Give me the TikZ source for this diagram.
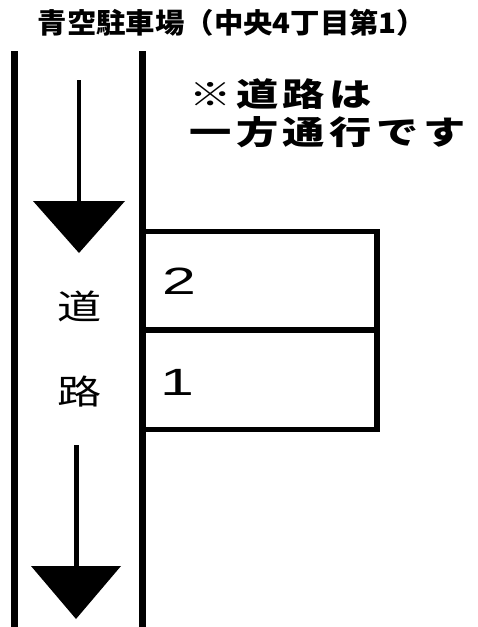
\documentclass[tikz,border=0pt]{standalone}
\usepackage{graphicx}
\usepackage{fontspec}
\newfontfamily\jp{Noto Sans CJK JP}
\newfontfamily\jpsp[LetterSpace=11]{Noto Sans CJK JP}
\newfontfamily\numf{Liberation Sans}
\tikzset{
  road/.style={line width=7pt},
  shaft/.style={line width=4.5pt},
  head/.style={fill=black},
  slot/.style={line width=5.5pt},
  titletxt/.style={inner sep=0pt, font=\jp\bfseries\fontsize{28}{28}\selectfont},
  notetxt/.style={inner sep=0pt, anchor=west, font=\jpsp\bfseries\fontsize{32.5}{32.5}\selectfont},
  roadtxt/.style={inner sep=0pt, font=\jp\fontsize{34}{34}\selectfont},
  numtxt/.style={inner sep=0pt, font=\numf\fontsize{38}{38}\selectfont},
}
\begin{document}
\begin{tikzpicture}[x=1pt,y=-1pt]
\useasboundingbox (0,0) rectangle (477,627);
\fill[white] (0,0) rectangle (477,627);
% title
\node[titletxt] (title) at (232,22.5) {\scalebox{1.05}[1]{青空駐車場（中央4丁目第1）}};
% road lines
\draw[road] (14.5,51) -- (14.5,627);
\draw[road] (142,51) -- (142,627);
% top arrow
\coordinate (a1s) at (79,80);
\coordinate (a1e) at (79,205);
\draw[shaft] (a1s) -- (a1e);
\fill[head] (33,201) -- (125,201) -- (79,253) -- cycle;
% bottom arrow
\coordinate (a2s) at (76.5,445);
\coordinate (a2e) at (76.5,570);
\draw[shaft,line width=5pt] (a2s) -- (a2e);
\fill[head] (31,566) -- (121,566) -- (76,619) -- cycle;
% road label
\node[roadtxt] (r1) at (79.5,306) {\scalebox{1.3}[1]{道}};
\node[roadtxt] (r2) at (80,392) {\scalebox{1.3}[1]{路}};
% note
\node[notetxt] (n1) at (189,94) {\scalebox{1.3}[1]{※道路は}};
\node[notetxt] (n2) at (189,132) {\scalebox{1.3}[1]{一方通行です}};
% parking slots
\draw[slot] (142,231.5) -- (377,231.5) -- (377,429.5) -- (142,429.5);
\draw[slot] (142,330) -- (377,330);
\node[numtxt] (s2) at (179,281) {\scalebox{1.6}[1]{2}};
\node[numtxt] (s1) at (177,382) {\scalebox{1.6}[1]{1}};
\end{tikzpicture}
\end{document}
